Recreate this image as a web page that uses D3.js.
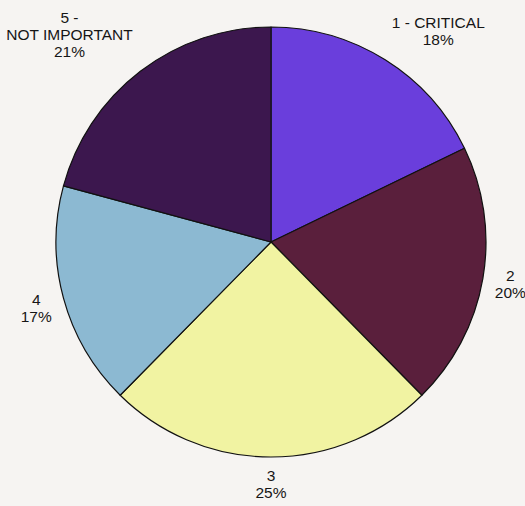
<!DOCTYPE html>
<html>
<head>
<meta charset="utf-8">
<script src="https://cdn.jsdelivr.net/npm/d3@7"></script>
<style>
  html, body { margin: 0; padding: 0; background: #f6f4f2; }
  svg { display: block; }
  text { font-family: "Liberation Sans", Arial, sans-serif; font-size: 15.5px; fill: #161616; }
</style>
</head>
<body>
<svg id="chart" width="525" height="506"></svg>
<script>
// Survey answers: importance rating, share of responses (%)
const categories = ["1 - CRITICAL", "2", "3", "4", "5 -\nNOT IMPORTANT"];
const shares = [18, 20, 25, 17, 21];
const colors = ["#6a3edc", "#5a1f3c", "#f1f3a2", "#8cb9d2", "#3c174e"];

const width = 525, height = 506;
const cx = 271, cy = 242, radius = 215;

const svg = d3.select("#chart");
const g = svg.append("g").attr("transform", `translate(${cx},${cy})`);

const pie = d3.pie().sort(null).value(d => d.value);
const data = categories.map((c, i) => ({ label: c, value: shares[i], color: colors[i] }));
const arcs = pie(data);

const arc = d3.arc().innerRadius(0).outerRadius(radius);

g.selectAll("path.slice")
  .data(arcs)
  .join("path")
  .attr("class", "slice")
  .attr("d", arc)
  .attr("fill", d => d.data.color)
  .attr("stroke", "#111")
  .attr("stroke-width", 1.2)
  .attr("stroke-linejoin", "round");

// Labels: text block placed just outside the rim, along each slice's mid-angle
const lineH = 17;
const anchorR = radius + 12;
arcs.forEach(d => {
  const lines = d.data.label.split("\n").concat([d.data.value + "%"]);
  const mid = (d.startAngle + d.endAngle) / 2;
  const ux = Math.sin(mid), uy = -Math.cos(mid);
  const ax = ux * anchorR, ay = uy * anchorR;

  const t = g.append("text").attr("text-anchor", "middle");
  lines.forEach((ln, i) => {
    t.append("tspan").attr("x", 0).attr("dy", i === 0 ? 0 : lineH).text(ln);
  });
  const bb = t.node().getBBox();
  const w = bb.width, h = bb.height;
  const clamp = v => Math.max(-1, Math.min(1, v));
  const bx = ax + (w / 2) * clamp(ux * 2);
  const by = ay + (h / 2) * clamp(uy * 2) - 2;
  // shift so the block's centre sits at (bx, by)
  const offY = by - (bb.y + h / 2);
  t.attr("transform", `translate(${bx},${offY})`);
});
</script>
</body>
</html>
